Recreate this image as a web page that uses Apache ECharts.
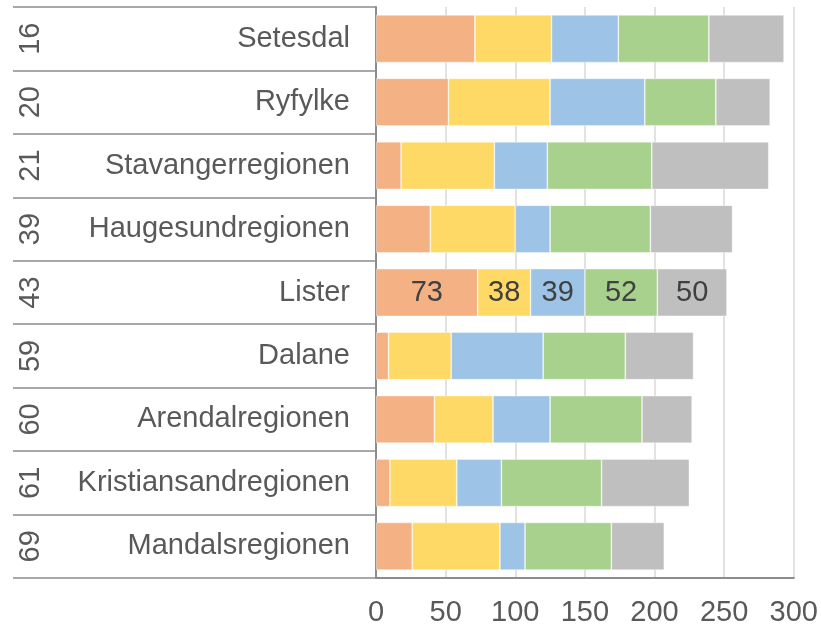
<!DOCTYPE html>
<html>
<head>
<meta charset="utf-8">
<script src="https://cdn.jsdelivr.net/npm/echarts@6/dist/echarts.min.js"></script>
<style>
  html, body { margin: 0; padding: 0; background: #fff; }
  #chart { width: 821px; height: 627px; }
</style>
</head>
<body>
<div id="chart"></div>
<script>
// regioner og rangering
const regions = ['Setesdal', 'Ryfylke', 'Stavangerregionen', 'Haugesundregionen', 'Lister',
                 'Dalane', 'Arendalregionen', 'Kristiansandregionen', 'Mandalsregionen'];
const ranks = ['16', '20', '21', '39', '43', '59', '60', '61', '69'];

// verdier per serie (lest av bildet)
const orangeValues = [71, 52, 18, 39, 73, 9, 42, 10, 26];
const yellowValues = [55, 73, 67, 61, 38, 45, 42, 48, 63];
const blueValues   = [48, 68, 38, 25, 39, 66, 41, 32, 18];
const greenValues  = [65, 51, 75, 72, 52, 59, 66, 72, 62];
const greyValues   = [54, 39, 84, 59, 50, 49, 36, 63, 38];

const xTicks = [0, 50, 100, 150, 200, 250, 300];

const seriesList = [
    { data: orangeValues, color: '#F4B183' },
    { data: yellowValues, color: '#FFD966' },
    { data: blueValues,   color: '#9DC3E6' },
    { data: greenValues,  color: '#A9D18E' },
    { data: greyValues,   color: '#BFBFBF' }
];

const labelIndex = regions.indexOf('Lister');
const fontFamily = '"Liberation Sans", Arial, sans-serif';
const axisGrey = '#8c8c8c';

const chart = echarts.init(document.getElementById('chart'));

chart.setOption({
    animation: false,
    textStyle: { fontFamily: fontFamily },
    grid: { left: 376, right: 27, top: 7, bottom: 47 },
    xAxis: {
        type: 'value',
        min: xTicks[0],
        max: xTicks[xTicks.length - 1],
        interval: 50,
        axisLine: { show: true, lineStyle: { color: axisGrey, width: 2 } },
        axisTick: { show: false },
        splitLine: { show: true, lineStyle: { color: '#d9d9d9', width: 1.5 } },
        axisLabel: { fontSize: 29, color: '#595959', margin: 20, fontFamily: fontFamily }
    },
    yAxis: [
        {
            type: 'category',
            data: regions,
            inverse: true,
            axisLine: { show: true, lineStyle: { color: axisGrey, width: 2 } },
            axisTick: { show: true, length: 363, lineStyle: { color: axisGrey, width: 1.5 } },
            axisLabel: { fontSize: 29, color: '#595959', margin: 26, fontFamily: fontFamily }
        },
        {
            type: 'category',
            data: ranks,
            inverse: true,
            position: 'left',
            axisLine: { show: false },
            axisTick: { show: false },
            axisLabel: { fontSize: 29, color: '#595959', rotate: 90, margin: 331, fontFamily: fontFamily }
        }
    ],
    series: seriesList.map(s => ({
        type: 'bar',
        stack: 'total',
        data: s.data,
        barCategoryGap: '25%',
        itemStyle: { color: s.color, borderColor: 'rgba(255,255,255,0.5)', borderWidth: 0.75 },
        label: {
            show: true,
            position: 'inside',
            fontSize: 29,
            color: '#404040',
            fontFamily: fontFamily,
            formatter: p => p.dataIndex === labelIndex ? String(p.value) : ''
        }
    }))
});
</script>
</body>
</html>
